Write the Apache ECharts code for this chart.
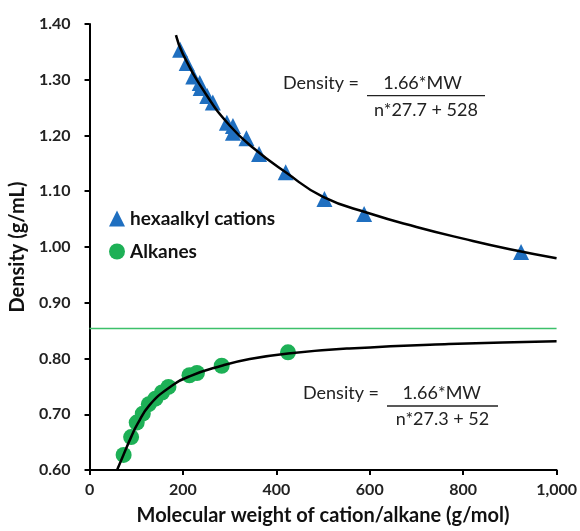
<!DOCTYPE html>
<html>
<head>
<meta charset="utf-8">
<style>
  html, body { margin: 0; padding: 0; background: #fff; }
  #main { width: 580px; height: 531px; }
</style>
</head>
<body>
<div id="main"></div>
<script src="https://cdn.jsdelivr.net/npm/echarts@6/dist/echarts.min.js"></script>
<script>
// hexaalkyl cations: [MW, density]
var cations = [
  [194, 1.354], [208, 1.330], [222, 1.306], [236, 1.294], [238, 1.285],
  [252, 1.271], [264, 1.259], [294, 1.223], [307, 1.217], [307, 1.205],
  [336, 1.195], [363, 1.167], [420, 1.134], [503, 1.086], [588, 1.059],
  [924, 0.991]
];
// alkanes: [MW, density]
var alkanes = [
  [73, 0.627], [89, 0.659], [101, 0.685], [114, 0.701], [127, 0.718],
  [141, 0.728], [155, 0.739], [169, 0.749], [214, 0.770], [230, 0.774],
  [283, 0.787], [425, 0.811]
];
// fitted curves
var cationFit = [
  [185, 1.380], [200, 1.346], [250, 1.273], [300, 1.218], [350, 1.178],
  [420, 1.134], [500, 1.090], [600, 1.060], [700, 1.036], [800, 1.015],
  [900, 0.996], [1000, 0.980]
];
var alkaneFit = [
  [59, 0.600], [73, 0.628], [89, 0.659], [103, 0.683], [128, 0.716],
  [171, 0.748], [214, 0.768], [283, 0.787], [343, 0.799], [425, 0.809],
  [556, 0.818], [769, 0.826], [1000, 0.831]
];
var limitLine = [[0, 0.854], [1000, 0.854]];

var font = 'Lato';
var chart = echarts.init(document.getElementById('main'));

function equation(lx, cy, cx, lineY, x0, x1, dy, den) {
  var st = { font: '18px ' + font, fill: '#222', verticalAlign: 'middle' };
  return [
    { type: 'text', x: lx, y: cy, style: Object.assign({ text: 'Density =', align: 'left' }, st) },
    { type: 'text', x: cx, y: cy, style: Object.assign({ text: '1.66*MW', align: 'center' }, st) },
    { type: 'line', shape: { x1: x0, y1: lineY, x2: x1, y2: lineY }, style: { stroke: '#222', lineWidth: 1.3 } },
    { type: 'text', x: (x0 + x1) / 2, y: dy, style: Object.assign({ text: den, align: 'center' }, st) }
  ];
}

chart.setOption({
  animation: false,
  backgroundColor: '#fff',
  grid: { left: 89, right: 21, top: 24, bottom: 59 },
  legend: {
    data: ['hexaalkyl cations', 'Alkanes'],
    orient: 'vertical',
    left: 104,
    top: 204,
    itemGap: 14,
    itemWidth: 16,
    itemHeight: 16,
    textStyle: { fontFamily: font, fontWeight: 'bold', fontSize: 19, color: '#111' }
  },
  xAxis: {
    type: 'value',
    min: 0, max: 1000, interval: 200,
    name: 'Molecular weight of cation/alkane (g/mol)',
    nameLocation: 'middle',
    nameGap: 36,
    nameTextStyle: { fontFamily: font, fontWeight: 'bold', fontSize: 20, color: '#111' },
    axisLine: { lineStyle: { color: '#000', width: 2 } },
    axisTick: { lineStyle: { color: '#000', width: 2 }, length: 5 },
    axisLabel: {
      fontFamily: font, fontWeight: 'bold', fontSize: 16, color: '#222', margin: 12,
      formatter: function (v) { return v >= 1000 ? '1,000' : String(v); }
    },
    splitLine: { show: false }
  },
  yAxis: {
    type: 'value',
    min: 0.6, max: 1.4, interval: 0.1,
    name: 'Density (g/mL)',
    nameLocation: 'middle',
    nameGap: 59,
    nameTextStyle: { fontFamily: font, fontWeight: 'bold', fontSize: 20, color: '#111' },
    axisLine: { show: true, lineStyle: { color: '#000', width: 2 } },
    axisTick: { show: true, lineStyle: { color: '#000', width: 2 }, length: 5 },
    axisLabel: {
      fontFamily: font, fontWeight: 'bold', fontSize: 16, color: '#222', margin: 19,
      formatter: function (v) { return v.toFixed(2); }
    },
    splitLine: { show: false }
  },
  series: [
    {
      name: 'limit', type: 'line', data: limitLine, symbol: 'none',
      lineStyle: { color: '#3cc06a', width: 1.5 }, silent: true
    },
    {
      name: 'cation fit', type: 'line', data: cationFit, symbol: 'none',
      smooth: 0.5,
      lineStyle: { color: '#000', width: 2.5 }
    },
    {
      name: 'alkane fit', type: 'line', data: alkaneFit, symbol: 'none',
      smooth: 0.5,
      lineStyle: { color: '#000', width: 2.5 }
    },
    {
      name: 'hexaalkyl cations', type: 'scatter', data: cations,
      symbol: 'triangle', symbolSize: 16,
      itemStyle: { color: '#1f6fc0', opacity: 1 }
    },
    {
      name: 'Alkanes', type: 'scatter', data: alkanes,
      symbol: 'circle', symbolSize: 16,
      itemStyle: { color: '#1db056', opacity: 1 }
    }
  ],
  graphic: equation(283, 83, 422.5, 95.7, 367, 485, 110, 'n*27.7 + 528')
    .concat(equation(303, 393, 441.7, 406, 387, 498, 419.3, 'n*27.3 + 52'))
});
</script>
</body>
</html>
